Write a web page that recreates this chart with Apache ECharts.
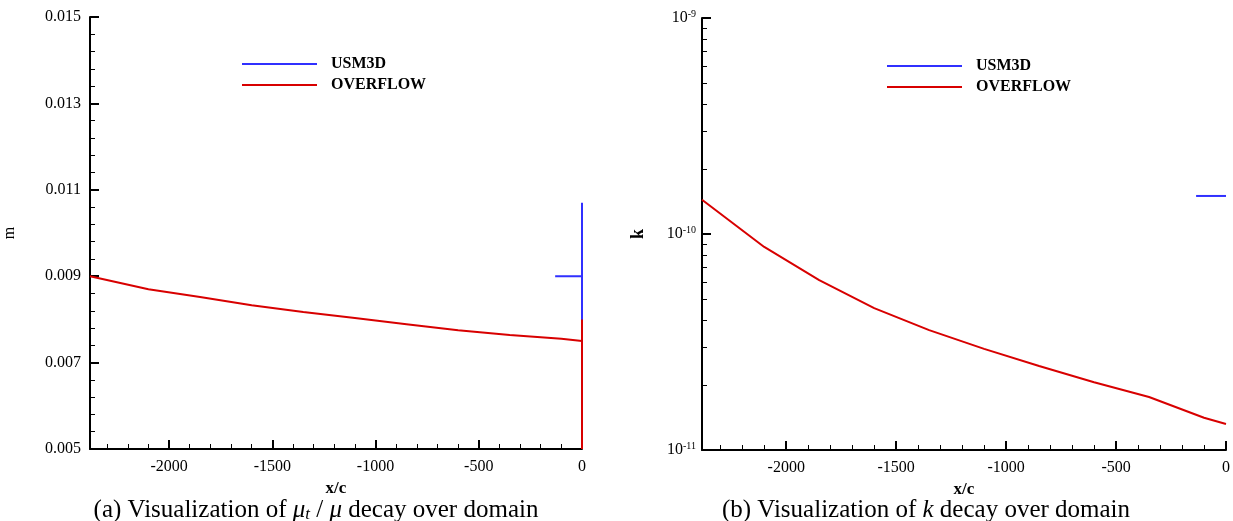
<!DOCTYPE html>
<html>
<head>
<meta charset="utf-8">
<script src="https://cdn.jsdelivr.net/npm/echarts@6/dist/echarts.min.js"></script>
<style>
html,body{margin:0;padding:0;background:#fff;}
#c{width:1233px;height:521px;}
</style>
</head>
<body>
<div id="c"></div>
<script>
// ---- data ----
const xMin = -2383;
const xMajorTicks = [-2000, -1500, -1000, -500, 0];
const xMinorTicks = [-2300, -2200, -2100, -1900, -1800, -1700, -1600, -1400, -1300, -1200, -1100, -900, -800, -700, -600, -400, -300, -200, -100];

const muMajorTicks = [0.005, 0.007, 0.009, 0.011, 0.013, 0.015];
const muMinorTicks = [0.0054, 0.0058, 0.0062, 0.0066, 0.0074, 0.0078, 0.0082, 0.0086, 0.0094, 0.0098, 0.0102, 0.0106, 0.0114, 0.0118, 0.0122, 0.0126, 0.0134, 0.0138, 0.0142, 0.0146];

const kMinorTicks = [2e-11, 3e-11, 4e-11, 5e-11, 6e-11, 7e-11, 8e-11, 9e-11, 2e-10, 3e-10, 4e-10, 5e-10, 6e-10, 7e-10, 8e-10, 9e-10];

// (a) mu_t/mu
const usmMuX = [-130, 0, 0, 0];
const usmMuY = [0.0090, 0.0090, 0.0107, 0.0050];
const ovfMuX = [-2383, -2100, -1850, -1600, -1350, -1100, -850, -600, -350, -100, 0, 0, 0];
const ovfMuY = [0.00900, 0.00870, 0.00852, 0.00833, 0.00817, 0.00803, 0.00789, 0.00775, 0.00764, 0.00755, 0.00750, 0.00800, 0.00500];

// (b) k
const usmKX = [-136, 0];
const usmKY = [1.5e-10, 1.5e-10];
const ovfKX = [-2383, -2100, -1850, -1600, -1350, -1100, -850, -600, -350, -100, 0];
const ovfKY = [1.44e-10, 8.71e-11, 6.12e-11, 4.54e-11, 3.59e-11, 2.94e-11, 2.45e-11, 2.06e-11, 1.76e-11, 1.41e-11, 1.32e-11];

const seriesNames = ['USM3D', 'OVERFLOW'];

// ---- helpers ----
const zip = (xs, ys) => xs.map((x, i) => [x, ys[i]]);
const FF = 'Liberation Serif';
const BLUE = '#3030ff';
const RED = '#d80000';
const lab = { fontFamily: FF, fontSize: 16, color: '#000' };

function mainX(gi) {
  return {
    type: 'value', gridIndex: gi, min: xMin, max: 0, position: 'bottom',
    name: 'x/c', nameLocation: 'middle', nameGap: 27,
    nameTextStyle: { fontFamily: FF, fontSize: 17, fontWeight: 'bold', color: '#000' },
    axisLine: { show: true, onZero: false, lineStyle: { color: '#000', width: 2 } },
    axisTick: { show: true, inside: true, length: 9, lineStyle: { color: '#000', width: 2 }, customValues: xMajorTicks },
    axisLabel: Object.assign({ margin: 10, customValues: xMajorTicks, formatter: v => String(v) }, lab),
    splitLine: { show: false }
  };
}
function minorX(gi) {
  return {
    type: 'value', gridIndex: gi, min: xMin, max: 0, position: 'bottom',
    axisLine: { show: false, onZero: false },
    axisTick: { show: true, inside: true, length: 5, lineStyle: { color: '#000', width: 1 }, customValues: xMinorTicks },
    axisLabel: { show: false },
    splitLine: { show: false }
  };
}

const option = {
  animation: false,
  backgroundColor: '#fff',
  grid: [
    { left: 90, top: 17, width: 492, height: 432 },
    { left: 702, top: 18, width: 525, height: 432 }
  ],
  legend: [
    { data: seriesNames, orient: 'vertical', left: 237, top: 51, icon: 'rect', itemWidth: 75, itemHeight: 2, itemGap: 5,
      textStyle: { fontFamily: FF, fontSize: 16, fontWeight: 'bold', color: '#000', padding: [0, 0, 0, 9] }, selectedMode: false },
    { data: seriesNames, orient: 'vertical', left: 882, top: 53, icon: 'rect', itemWidth: 75, itemHeight: 2, itemGap: 5,
      textStyle: { fontFamily: FF, fontSize: 16, fontWeight: 'bold', color: '#000', padding: [0, 0, 0, 9] }, selectedMode: false }
  ],
  xAxis: [mainX(0), minorX(0), mainX(1), minorX(1)],
  yAxis: [
    {
      type: 'value', gridIndex: 0, min: 0.005, max: 0.015, position: 'left',
      name: 'm', nameLocation: 'middle', nameGap: 72,
      nameTextStyle: { fontFamily: FF, fontSize: 16, color: '#000' },
      axisLine: { show: true, onZero: false, lineStyle: { color: '#000', width: 2 } },
      axisTick: { show: true, inside: true, length: 9, lineStyle: { color: '#000', width: 2 }, customValues: muMajorTicks },
      axisLabel: Object.assign({ margin: 9, customValues: muMajorTicks, formatter: v => v.toFixed(3) }, lab),
      splitLine: { show: false }
    },
    {
      type: 'value', gridIndex: 0, min: 0.005, max: 0.015, position: 'left',
      axisLine: { show: false, onZero: false },
      axisTick: { show: true, inside: true, length: 5, lineStyle: { color: '#000', width: 1 }, customValues: muMinorTicks },
      axisLabel: { show: false }, splitLine: { show: false }
    },
    {
      type: 'log', logBase: 10, gridIndex: 1, min: 1e-11, max: 1e-9, position: 'left',
      name: 'k', nameLocation: 'middle', nameGap: 55,
      nameTextStyle: { fontFamily: FF, fontSize: 18, fontWeight: 'bold', color: '#000' },
      axisLine: { show: true, onZero: false, lineStyle: { color: '#000', width: 2 } },
      axisTick: { show: true, inside: true, length: 9, lineStyle: { color: '#000', width: 2 } },
      axisLabel: {
        margin: 6,
        formatter: v => '{b|10}{e|' + Math.round(Math.log10(v)) + '}',
        rich: {
          b: { fontFamily: FF, fontSize: 16, color: '#000' },
          e: { fontFamily: FF, fontSize: 10, color: '#000', verticalAlign: 'top', padding: [0, 0, 8, 0] }
        }
      },
      splitLine: { show: false }
    },
    {
      type: 'value', gridIndex: 1, min: -11, max: -9, position: 'left',
      axisLine: { show: false, onZero: false },
      axisTick: { show: true, inside: true, length: 5, lineStyle: { color: '#000', width: 1 }, customValues: kMinorTicks.map(v => Math.log10(v)) },
      axisLabel: { show: false }, splitLine: { show: false }
    }
  ],
  series: [
    { name: 'USM3D', type: 'line', xAxisIndex: 0, yAxisIndex: 0, data: zip(usmMuX, usmMuY), showSymbol: false, symbol: 'none', color: BLUE, lineStyle: { color: BLUE, width: 2 } },
    { name: 'OVERFLOW', type: 'line', xAxisIndex: 0, yAxisIndex: 0, data: zip(ovfMuX, ovfMuY), showSymbol: false, symbol: 'none', color: RED, lineStyle: { color: RED, width: 2 } },
    { name: 'USM3D', type: 'line', xAxisIndex: 2, yAxisIndex: 2, data: zip(usmKX, usmKY), showSymbol: false, symbol: 'none', color: BLUE, lineStyle: { color: BLUE, width: 2 } },
    { name: 'OVERFLOW', type: 'line', xAxisIndex: 2, yAxisIndex: 2, data: zip(ovfKX, ovfKY), showSymbol: false, symbol: 'none', color: RED, lineStyle: { color: RED, width: 2 } }
  ],
  graphic: [
    { type: 'text', x: 316, y: 510, style: {
        text: '{n|(a) Visualization of }{i|μ}{s|t}{n| / }{i|μ}{n| decay over domain}',
        align: 'center', verticalAlign: 'middle', fill: '#000',
        rich: {
          n: { fontFamily: FF, fontSize: 25, fill: '#000' },
          i: { fontFamily: FF, fontSize: 25, fontStyle: 'italic', fill: '#000' },
          s: { fontFamily: FF, fontSize: 17, fontStyle: 'italic', fill: '#000', verticalAlign: 'bottom', padding: [10, 0, 0, 0] }
        } } },
    { type: 'text', x: 926, y: 510, style: {
        text: '{n|(b) Visualization of }{i|k}{n| decay over domain}',
        align: 'center', verticalAlign: 'middle', fill: '#000',
        rich: {
          n: { fontFamily: FF, fontSize: 25, fill: '#000' },
          i: { fontFamily: FF, fontSize: 25, fontStyle: 'italic', fill: '#000' }
        } } }
  ]
};

const chart = echarts.init(document.getElementById('c'), null, { renderer: 'canvas' });
chart.setOption(option);
</script>
</body>
</html>
